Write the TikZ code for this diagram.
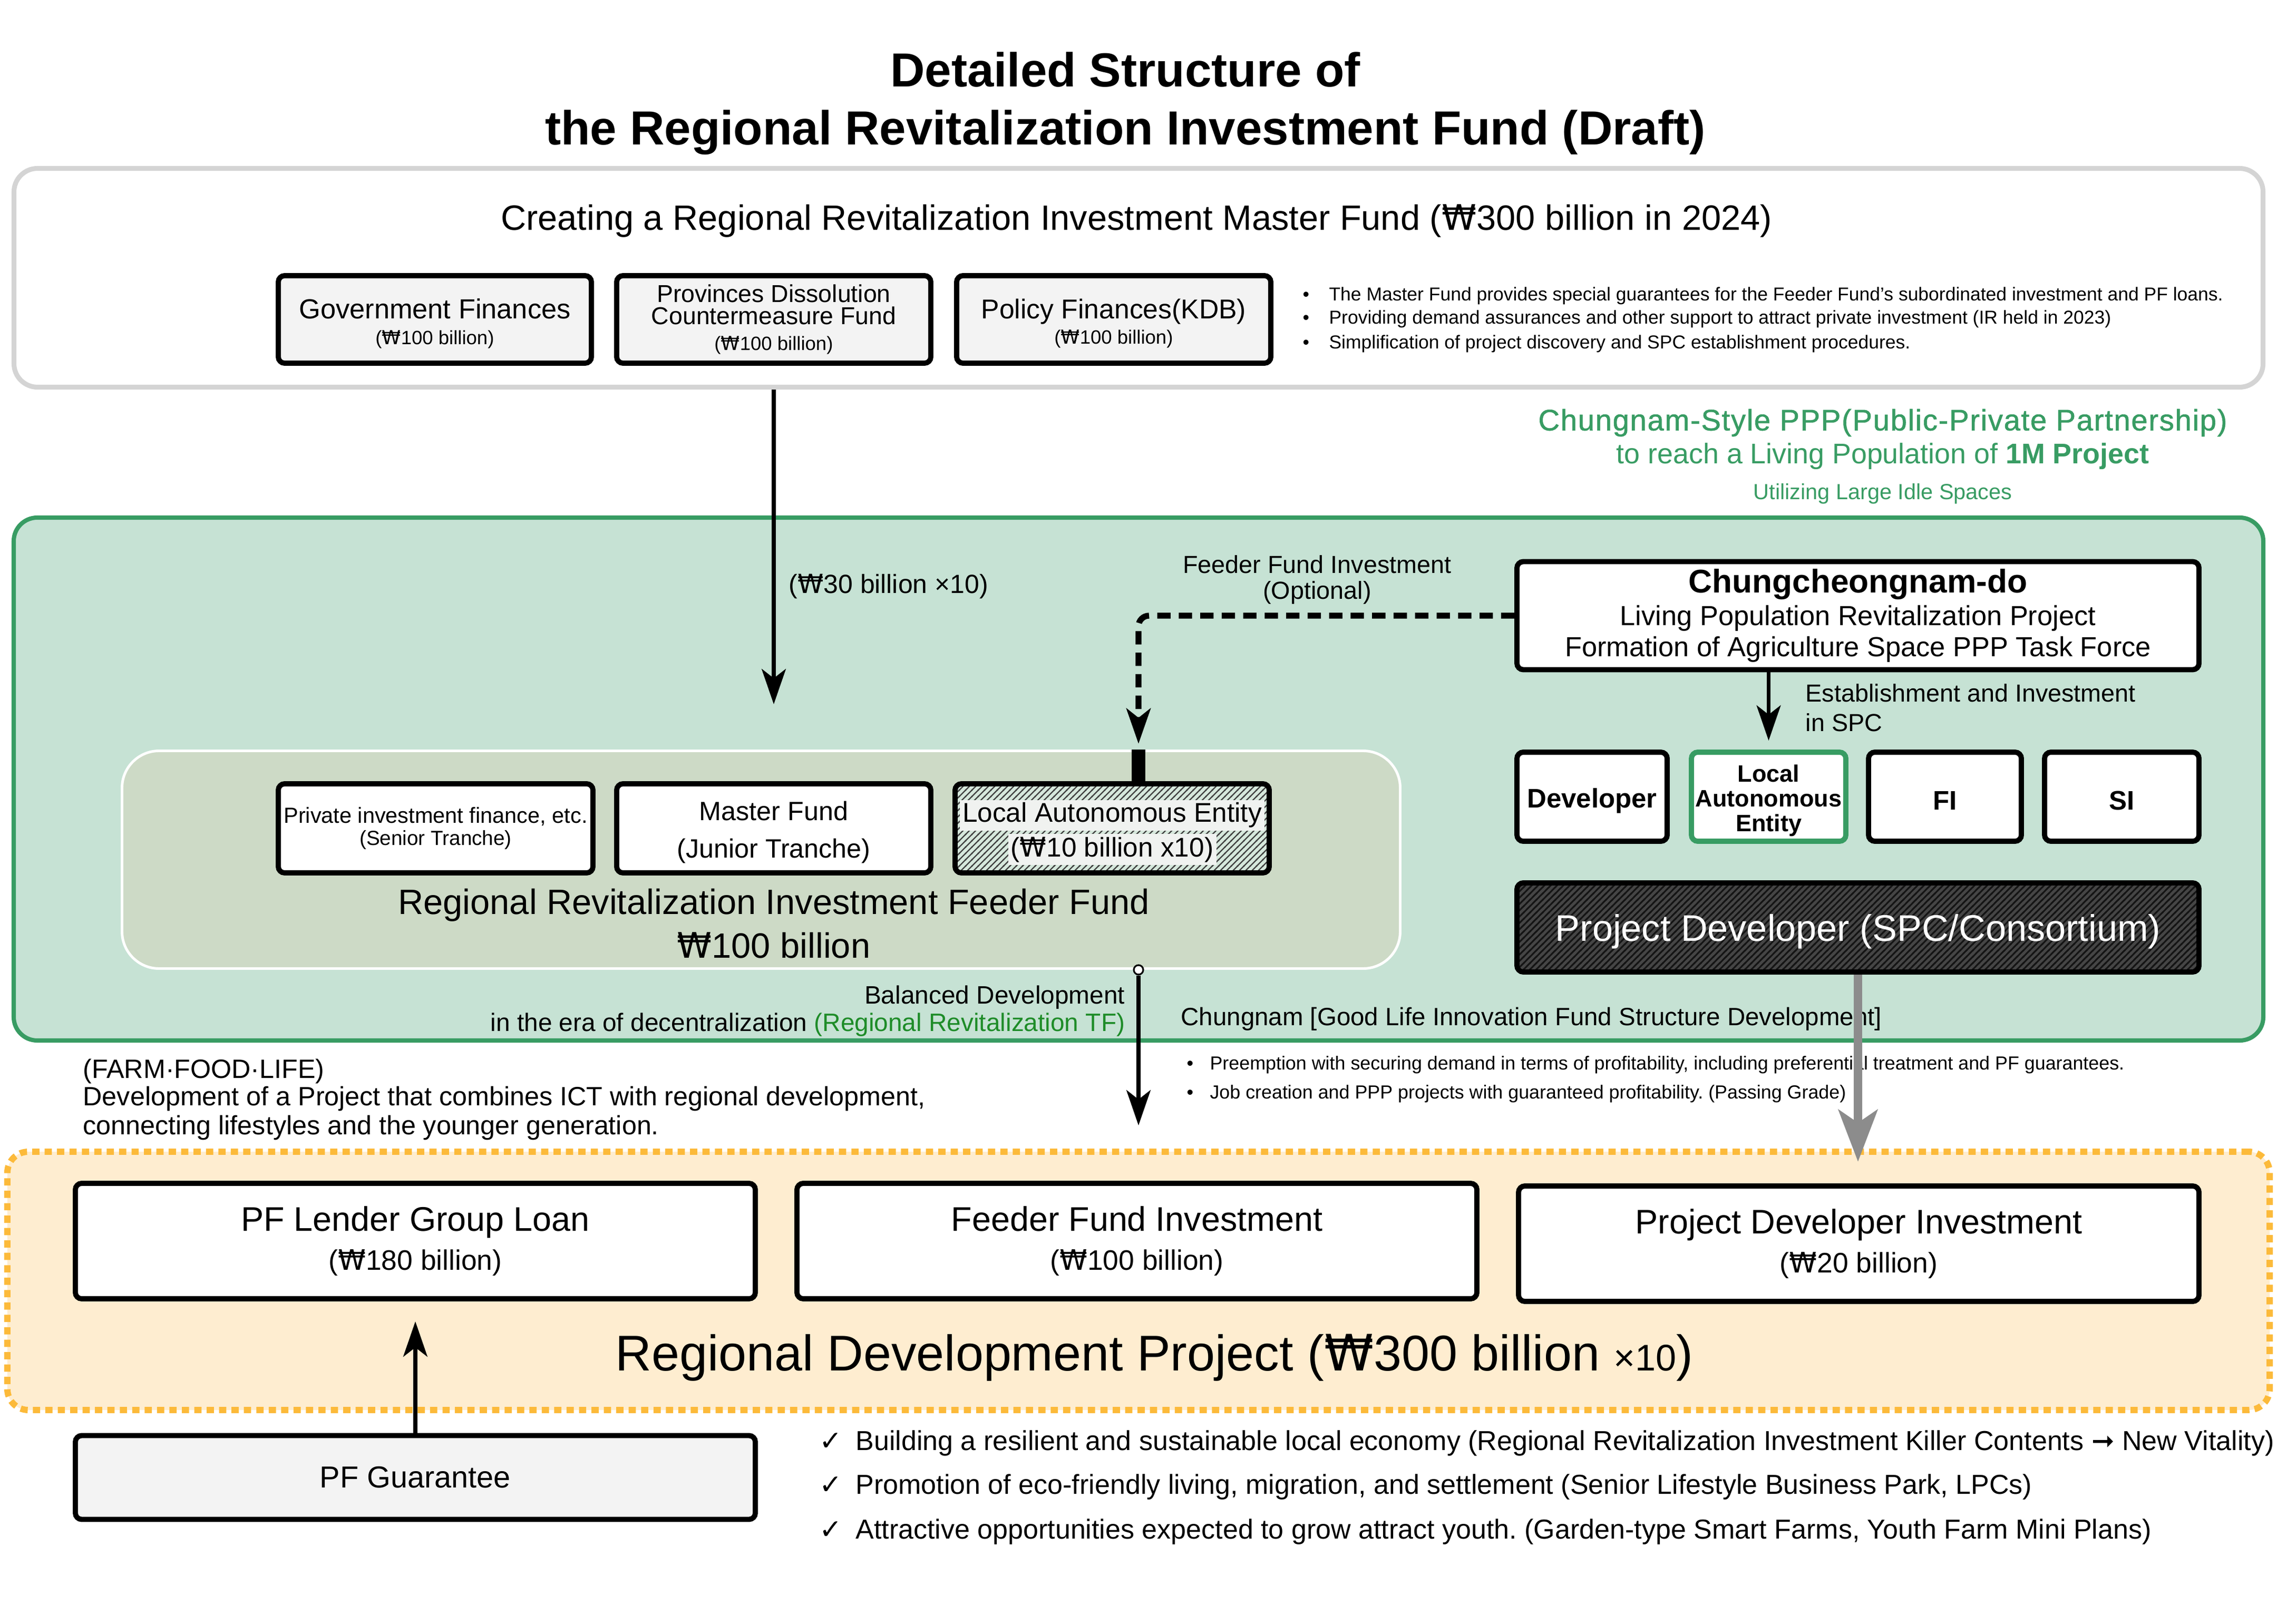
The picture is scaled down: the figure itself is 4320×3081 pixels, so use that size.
\documentclass[tikz,border=0pt]{standalone}
\usepackage{fontspec}
\setmainfont{Liberation Sans}
\newfontfamily\symfont{DejaVu Sans}
\newfontfamily\medfont[FakeBold=1,LetterSpace=3]{Liberation Sans}
\usetikzlibrary{arrows.meta,patterns,patterns.meta,calc}
\newdimen\upx \upx=0.28346pt
\newcommand\fs[1]{\fontsize{#1pt}{1.2\dimexpr#1pt\relax}\selectfont}
\newcommand\won{{\symfont ₩}}
\newcommand\hlt[1]{{\setlength{\fboxsep}{1.5pt}\colorbox{hlgray}{#1}}}
\frenchspacing
\definecolor{pgreen}{RGB}{56,156,99}
\definecolor{panelgreen}{RGB}{198,226,212}
\definecolor{feedfill}{RGB}{205,218,198}
\definecolor{tfgreen}{RGB}{30,140,40}
\definecolor{orangeb}{RGB}{252,186,58}
\definecolor{orangef}{RGB}{254,237,208}
\definecolor{lgray}{RGB}{243,243,243}
\definecolor{mgray}{RGB}{212,212,212}
\definecolor{arrgray}{RGB}{140,140,140}
\definecolor{hlgray}{RGB}{240,242,240}
\definecolor{hatchbg}{RGB}{214,232,220}
\tikzdeclarepattern{
  name=hatch,
  type=uncolored,
  bounding box={(0,0) and (3.4pt,3.4pt)},
  tile size={(3.4pt,3.4pt)},
  code={
    \draw[line width=0.9pt] (-1pt,-1pt) -- (4.4pt,4.4pt);
    \draw[line width=0.9pt] (-1pt,2.4pt) -- (1pt,4.4pt);
    \draw[line width=0.9pt] (2.4pt,-1pt) -- (4.4pt,1pt);
  }
}
\tikzdeclarepattern{
  name=hatchthin,
  type=uncolored,
  bounding box={(0,0) and (3.5pt,3.5pt)},
  tile size={(3.5pt,3.5pt)},
  code={
    \draw[line width=0.65pt] (-1pt,-1pt) -- (4.5pt,4.5pt);
    \draw[line width=0.65pt] (-1pt,2.5pt) -- (1pt,4.5pt);
    \draw[line width=0.65pt] (2.5pt,-1pt) -- (4.5pt,1pt);
  }
}
\begin{document}
\begin{tikzpicture}[x=0.1mm,y=-0.1mm,
  sz/.style 2 args={minimum width=#1*0.1mm, minimum height=#2*0.1mm},
  bx/.style={draw=black, line width=2.8pt, rounded corners=3.4pt, align=center, inner sep=0pt},
  lbl/.style={inner sep=0pt},
  intext/.style={lbl, align=center, yshift=-2.2pt},
  arr/.style={line width=2.1pt, -{Stealth[length=19pt,width=13pt,inset=5pt]}},
  dasharr/.style={line width=3.2pt, dash pattern=on 7.2pt off 4.4pt, -{Stealth[length=19pt,width=13pt,inset=5pt]}},
  grayarr/.style={draw=arrgray, line width=4.4pt, -{Stealth[length=28pt,width=21pt,inset=7pt]}},
]
\useasboundingbox (0,0) rectangle (4320,3081);
\fill[white] (0,0) rectangle (4320,3081);

% title
\node[lbl, anchor=base, font=\bfseries\fs{25.8}] (t1) at (2135,165) {Detailed Structure of};
\node[lbl, anchor=base, font=\bfseries\fs{25.8}] (t2) at (2135,275) {the Regional Revitalization Investment Fund (Draft)};

% master panel
\node[draw=mgray, line width=2.6pt, rounded corners=12.7pt, fill=white, sz={4267}{415}] (master) at (2160,527) {};
\node[lbl, anchor=base, font=\fs{19}] (mt) at (2156,437) {Creating a Regional Revitalization Investment Master Fund (\won300 billion in 2024)};
\node[bx, fill=lgray, sz={594}{166}, label={[intext, font=\fs{14.9}]center:{Government Finances\\[-4pt]{\fs{10.4}(\won100 billion)}}}] (gov) at (825,606) {};
\node[bx, fill=lgray, sz={596}{166}, font=\fs{13.2}] (prov) at (1468,606) {Provinces Dissolution\\[-4pt]Countermeasure Fund\\[-2pt]{\fs{10.4}(\won100 billion)}};
\node[bx, fill=lgray, sz={596}{166}, label={[intext, font=\fs{14.7}]center:{Policy Finances(KDB)\\[-4pt]{\fs{10.4}(\won100 billion)}}}] (pol) at (2113,606) {};
\node[lbl, anchor=base west, font=\fs{10.1}] (mb1) at (2471,571) {\makebox[50\upx][l]{•}The Master Fund provides special guarantees for the Feeder Fund’s subordinated investment and PF loans.};
\node[lbl, anchor=base west, font=\fs{10.1}] (mb2) at (2471,615) {\makebox[50\upx][l]{•}Providing demand assurances and other support to attract private investment (IR held in 2023)};
\node[lbl, anchor=base west, font=\fs{10.1}] (mb3) at (2471,662) {\makebox[50\upx][l]{•}Simplification of project discovery and SPC establishment procedures.};

% green headings
\node[lbl, text=pgreen, font=\medfont\fs{16}] (g1) at (3572,802) {Chungnam-Style PPP(Public-Private Partnership)};
\node[lbl, text=pgreen, font=\fs{15.3}] (g2) at (3572,866) {to reach a Living Population of {\bfseries 1M Project}};
\node[lbl, text=pgreen, font=\fs{11.8}] (g3) at (3572,937) {Utilizing Large Idle Spaces};

% green panel
\node[draw=pgreen, fill=panelgreen, line width=2.3pt, rounded corners=12.7pt, sz={4268}{992}] (ppp) at (2160,1478) {};
\node[draw=white, fill=feedfill, line width=1.4pt, rounded corners=20pt, sz={2425}{413}] (feeder) at (1444,1631) {};

\node[lbl, anchor=west, font=\fs{14.2}] (l30) at (1496,1112) {(\won30 billion ×10)};
\node[bx, fill=white, sz={597}{169}] (pri) at (826.5,1571.5) {{\fs{11.8}Private investment finance, etc.}\\{\fs{11}(Senior Tranche)}};
\node[bx, fill=white, sz={596}{169}, label={[intext, font=\fs{14.3}]center:{Master Fund\\[3pt](Junior Tranche)}}] (mf) at (1468,1571.5) {};
\node[bx, preaction={fill=hatchbg}, pattern=hatchthin, pattern color=black!75, sz={596}{169}, label={[intext, font=\fs{14.6}]center:{\hlt{Local Autonomous Entity}\\[1pt]\hlt{(\won10 billion x10)}}}] (lae1) at (2110,1571.5) {};
\node[lbl, font=\fs{19}, align=center] (ft) at (1468,1752) {Regional Revitalization Investment Feeder Fund\\[1pt]\won100 billion};

\node[lbl, font=\fs{13.3}, align=center] (ffo) at (2499,1100) {Feeder Fund Investment\\[-2pt](Optional)};
\node[bx, fill=white, sz={1294}{205}, font=\fs{14.9}] (chung) at (3525,1168) {{\bfseries\fs{17.7}Chungcheongnam-do}\\[-0.2pt]Living Population Revitalization Project\\[-1.2pt]Formation of Agriculture Space PPP Task Force};
\node[lbl, anchor=west, align=left, font=\fs{13.3}] (est) at (3425,1343) {Establishment and Investment\\in SPC};
\node[bx, fill=white, sz={285}{169}, label={[intext, font=\bfseries\fs{14.5}]center:Developer}] (dev) at (3020.5,1511.5) {};
\node[bx, draw=pgreen, fill=white, sz={293}{169}, label={[intext, font=\bfseries\fs{12.8}]center:{Local\\[-2pt]Autonomous\\[-2pt]Entity}}] (lae2) at (3355.5,1511.5) {};
\node[bx, fill=white, sz={290}{169}, label={[intext, font=\bfseries\fs{14.5}]center:FI}] (fi) at (3690,1511.5) {};
\node[bx, fill=white, sz={293}{169}, label={[intext, font=\bfseries\fs{14.5}]center:SI}] (si) at (4025.5,1511.5) {};
\node[bx, preaction={fill=black!73}, pattern=hatch, pattern color=black!92, sz={1294}{169}, label={[intext, text=white, font=\fs{20}]center:{Project Developer (SPC/Consortium)}}] (pd) at (3525,1759.5) {};

\node[lbl, anchor=east, font=\fs{13.6}] (bal1) at (2135,1892) {Balanced Development};
\node[lbl, anchor=east, font=\fs{13.6}] (bal2) at (2135,1944) {in the era of decentralization \textcolor{tfgreen}{(Regional Revitalization TF)}};
\node[lbl, anchor=west, font=\fs{13.5}] (cgl) at (2240,1933) {Chungnam [Good Life Innovation Fund Structure Development]};

\node[lbl, anchor=base west, font=\fs{10.2}] (lb1) at (2251,2029) {\makebox[44\upx][l]{•}Preemption with securing demand in terms of profitability, including preferential treatment and PF guarantees.};
\node[lbl, anchor=base west, font=\fs{10.2}] (lb2) at (2251,2084) {\makebox[44\upx][l]{•}Job creation and PPP projects with guaranteed profitability. (Passing Grade)};

\node[lbl, anchor=base west, font=\fs{14.3}] (farm1) at (157,2045) {(FARM·FOOD·LIFE)};
\node[lbl, anchor=base west, font=\fs{14.3}] (farm2) at (157,2097) {Development of a Project that combines ICT with regional development,};
\node[lbl, anchor=base west, font=\fs{14.3}] (farm3) at (157,2152) {connecting lifestyles and the younger generation.};

% orange panel
\node[draw=orangeb, fill=orangef, line width=3.4pt, dash pattern=on 3.9pt off 2.8pt, rounded corners=11.3pt, sz={4292}{490}] (rdp) at (2160,2430) {};
\node[bx, fill=white, sz={1290}{219}, font=\fs{18.4}] (pfl) at (788,2354.5) {PF Lender Group Loan\\[-1pt]{\fs{15.2}(\won180 billion)}};
\node[bx, fill=white, sz={1290}{219}, font=\fs{18.4}] (ffi) at (2157,2354.5) {Feeder Fund Investment\\[-1pt]{\fs{15.2}(\won100 billion)}};
\node[bx, fill=white, sz={1291}{219}, font=\fs{18.4}] (pdi) at (3526.5,2359.5) {Project Developer Investment\\[-1pt]{\fs{15.2}(\won20 billion)}};
\node[lbl, font=\fs{27.1}] (rdpt) at (2190,2576) {Regional Development Project (\won300 billion {\fs{20}×10})};

\node[bx, fill=lgray, sz={1290}{159}, font=\fs{16.4}] (pfg) at (788,2803) {PF Guarantee};
\node[lbl, anchor=base west, font=\fs{14.8}] (c1) at (1554,2751) {\makebox[69\upx][l]{\symfont ✓}Building a resilient and sustainable local economy (Regional Revitalization Investment Killer Contents {\symfont ➞} New Vitality)};
\node[lbl, anchor=base west, font=\fs{14.8}] (c2) at (1554,2834) {\makebox[69\upx][l]{\symfont ✓}Promotion of eco-friendly living, migration, and settlement (Senior Lifestyle Business Park, LPCs)};
\node[lbl, anchor=base west, font=\fs{14.8}] (c3) at (1554,2919) {\makebox[69\upx][l]{\symfont ✓}Attractive opportunities expected to grow attract youth. (Garden-type Smart Farms, Youth Farm Mini Plans)};

% connectors
\coordinate (a30) at (1468,1336);
\draw[arr] (master.south -| prov.south) -- (a30);
\coordinate (dend) at (2160,1411);
\draw[dasharr, rounded corners=5.7pt] (chung.west) -- (chung.west -| dend) -- (dend);
\draw[line width=7.6pt] (dend |- feeder.north) -- (dend |- lae1.north);
\coordinate (cend) at (3355.5,1405);
\draw[arr] (chung.south -| cend) -- (cend);
\node[circle, draw, fill=white, line width=0.9pt, minimum size=5.1pt, inner sep=0pt] (fcirc) at (feeder.south -| dend) {};
\coordinate (fend) at (2160,2135);
\draw[arr] (fcirc.south) -- (fend);
\coordinate (gend) at (3525,2204);
\draw[grayarr] (pd.south) -- (gend);
\coordinate (pfend) at (788,2507);
\draw[arr] (pfg.north) -- (pfend);
\end{tikzpicture}
\end{document}
